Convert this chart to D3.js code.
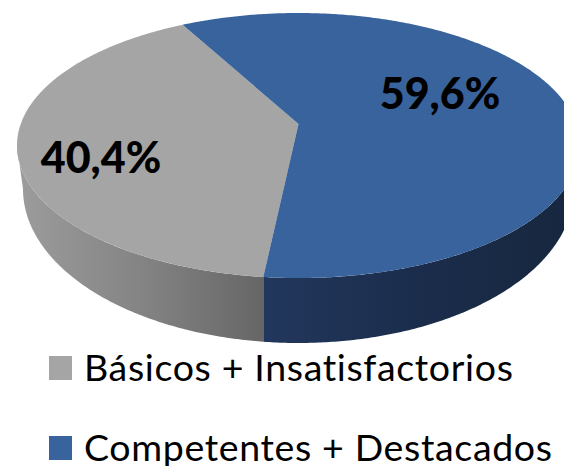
<!DOCTYPE html>
<html>
<head>
<meta charset="utf-8">
<script src="https://cdn.jsdelivr.net/npm/d3@7"></script>
<style>
  html, body { margin: 0; padding: 0; background: #fff; overflow: hidden; }
  svg { display: block; }
  text { font-family: Lato, "Open Sans", sans-serif; fill: #000; font-variant-ligatures: none; }
</style>
</head>
<body>
<svg id="chart" width="564" height="466"></svg>
<script>
const categories = ["Básicos + Insatisfactorios", "Competentes + Destacados"];
const values = [40.4, 59.6];
const valueLabels = ["40,4%", "59,6%"];
const colors = ["#a5a5a5", "#38639c"];

const width = 564, height = 466;
const svg = d3.select("#chart").attr("viewBox", [0, 0, width, height]);

// top face ellipse, and the (fitted) lower rim of the wall
const top_ = {cx: 298.5, cy: 145.5, rx: 281.5, ry: 132.5};
const rim = {cx: 298.5, cy: 189, rx: 275.5, ry: 154};
// perspective: the pie centre lands above the ellipse centre
const k = -0.162;

function project(a) {
  const u = Math.sin(a), v = -Math.cos(a);
  const d = 1 + k * v;
  return [u * Math.sqrt(1 - k * k) / d, (v + k) / d];
}
const onEllipse = (e, p) => [e.cx + e.rx * p[0], e.cy + e.ry * p[1]];

const startAngle = 186.1 * Math.PI / 180;
const pie = d3.pie().sort(null).startAngle(startAngle).endAngle(startAngle + 2 * Math.PI);
const arcs = pie(values);
const line = d3.line();

function sampleAngles(a0, a1) {
  const n = Math.ceil(Math.abs(a1 - a0) / 0.01);
  return d3.range(n + 1).map(i => a0 + (a1 - a0) * i / n);
}

const defs = svg.append("defs");
function gradient(id, x1, x2, stops) {
  const g = defs.append("linearGradient").attr("id", id)
    .attr("gradientUnits", "userSpaceOnUse")
    .attr("x1", x1).attr("x2", x2).attr("y1", 0).attr("y2", 0);
  stops.forEach(s => g.append("stop").attr("offset", s[0]).attr("stop-color", s[1]));
}
gradient("wall0", 17, 264, [[0, "#9c9c9c"], [0.5, "#848484"], [1, "#666666"]]);
gradient("wall1", 264, 564, [[0, "#22375d"], [0.5, "#1b2d4c"], [1, "#17273f"]]);

// WALLS: split at the seam under the slice boundary (t = 0 is straight down on the ellipse)
const seamX = top_.cx + top_.rx * project(startAngle)[0];
function ellipseArc(e, xFrom, xTo) {
  const t = x => Math.asin((x - e.cx) / e.rx);
  const t0 = xFrom === null ? -Math.PI / 2 : t(xFrom);
  const t1 = xTo === null ? Math.PI / 2 : t(xTo);
  return sampleAngles(t0, t1).map(a => [e.cx + e.rx * Math.sin(a), e.cy + e.ry * Math.cos(a)]);
}
const wallSpans = [[null, seamX], [seamX, null]];
svg.append("g").selectAll("path")
  .data(wallSpans)
  .join("path")
    .attr("d", d => line(ellipseArc(top_, d[0], d[1]).concat(ellipseArc(rim, d[0], d[1]).reverse())) + "Z")
    .attr("fill", (d, i) => `url(#wall${i})`);

// TOP FACE
svg.append("g").selectAll("path")
  .data(arcs)
  .join("path")
    .attr("d", d => {
      const apex = onEllipse(top_, [0, k]);
      const pts = sampleAngles(d.startAngle, d.endAngle).map(a => onEllipse(top_, project(a)));
      return line([apex].concat(pts)) + "Z";
    })
    .attr("fill", (d, i) => colors[i]);

// VALUE LABELS
const labelPos = [[101, 173], [440, 109]];
svg.append("g").selectAll("text")
  .data(valueLabels)
  .join("text")
    .attr("x", (d, i) => labelPos[i][0])
    .attr("y", (d, i) => labelPos[i][1])
    .attr("text-anchor", "middle")
    .attr("font-size", 43)
    .attr("font-weight", 900)
    .text(d => d);

// LEGEND
const legendY = d3.scalePoint().domain(categories).range([381, 461]);
const legend = svg.append("g").selectAll("g")
  .data(categories)
  .join("g")
    .attr("transform", d => `translate(0,${legendY(d)})`);
legend.append("rect")
  .attr("x", 49).attr("y", -25)
  .attr("width", 23).attr("height", 24)
  .attr("fill", (d, i) => colors[i]);
legend.append("text")
  .attr("x", 84)
  .attr("font-size", 37.5)
  .style("letter-spacing", "0.65px")
  .text(d => d);
</script>
</body>
</html>
